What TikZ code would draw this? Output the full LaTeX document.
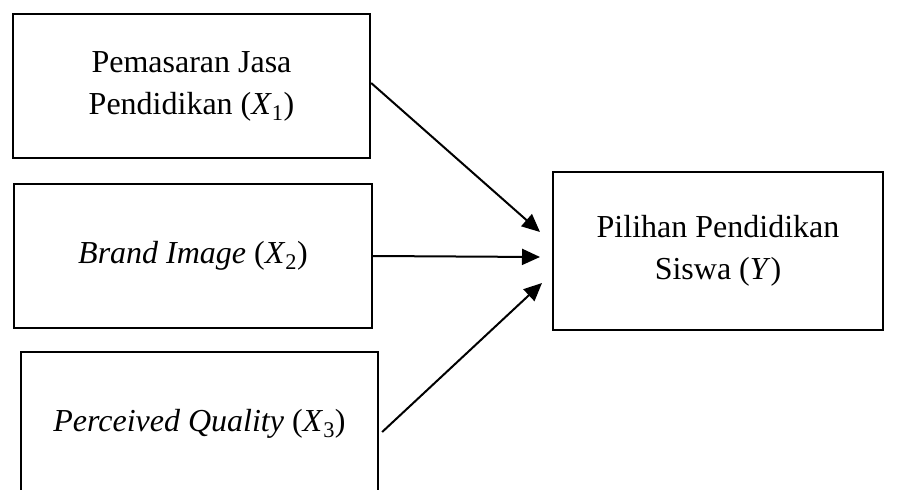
\documentclass[tikz,border=0pt]{standalone}
\usepackage{fontspec}
\setmainfont{Liberation Serif}
\usetikzlibrary{arrows.meta}
\newcommand\varX[1]{(\textit{X}\textsubscript{#1})}
\begin{document}
\begin{tikzpicture}[x=1pt,y=-1pt,
  box/.style={draw, line width=2.3pt, minimum width=357pt, minimum height=144pt,
    align=center, font=\fontsize{32}{42}\selectfont, inner sep=0pt},
  arr/.style={line width=2pt, -{Triangle[length=18pt,width=16pt]}}]
\clip (0,0) rectangle (908,490);
\node[box] (x1) at (191.5,86) {Pemasaran Jasa\\Pendidikan \varX{1}};
\node[box, minimum width=358pt] (x2) at (193,256) {\textit{Brand Image} \varX{2}};
\node[box] (x3) at (199.5,424) {\textit{Perceived Quality} \varX{3}};
\node[box, minimum width=330pt, minimum height=158pt] (y) at (718,251) {Pilihan Pendidikan\\Siswa (\textit{Y})};
\coordinate (t1) at (540,232);
\coordinate (t2) at (540,257);
\coordinate (t3) at (542,283);
\draw[arr] ([yshift=3pt]x1.east) -- (t1);
\draw[arr] (x2.east) -- (t2);
\draw[arr] ([xshift=3pt,yshift=-8pt]x3.east) -- (t3);
\end{tikzpicture}
\end{document}
